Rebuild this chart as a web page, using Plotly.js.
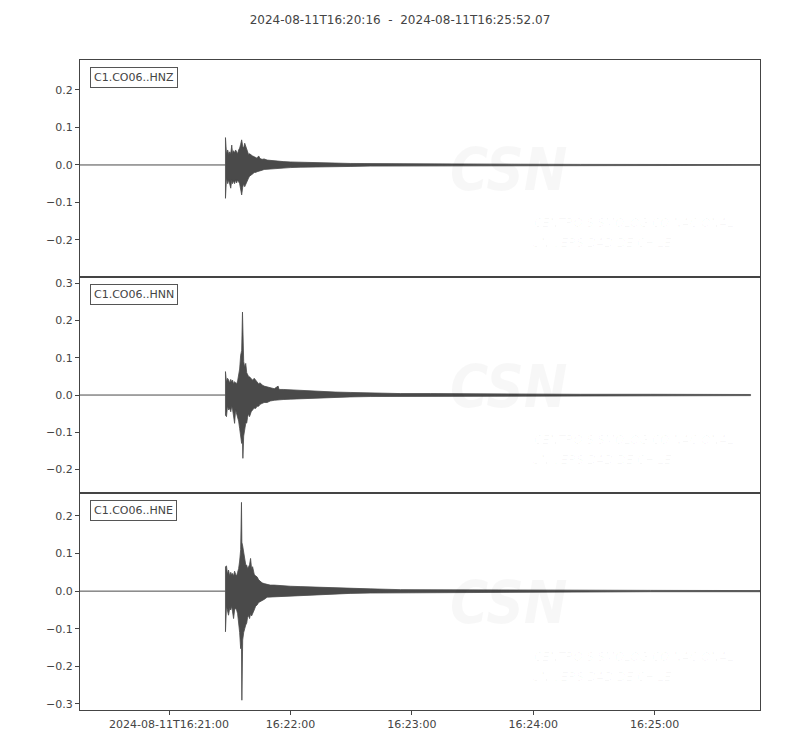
<!DOCTYPE html>
<html>
<head>
<meta charset="utf-8">
<script src="https://cdn.plot.ly/plotly-3.0.1.min.js"></script>
<style>html,body{margin:0;padding:0;background:#fff;}#chart{width:800px;height:750px;}</style>
</head>
<body>
<div id="chart"></div>
<script>
// ---- data (seconds after 2024-08-11T16:20:16, amplitude envelopes) ----
const startTime = "2024-08-11 16:20:16";
const endTime = "2024-08-11 16:25:52.07";
const titleText = "2024-08-11T16:20:16  -  2024-08-11T16:25:52.07";
const channels = ["C1.CO06..HNZ", "C1.CO06..HNN", "C1.CO06..HNE"];

const tZ = [71.9,72.4,73.0,73.5,74.0,74.5,75.0,75.4,75.9,76.4,76.9,77.4,77.9,78.4,78.9,79.4,79.9,80.4,80.9,81.4,81.9,82.4,82.8,83.3,83.8,84.6,85.3,86.1,86.8,87.5,88.3,89.0,90.0,91.0,92.5,94.0,96.0,97.9,100.4,103.9,108.8,113.8,118.7,126.1,133.5,143.4,158.3,173.1,192.9,217.6,247.3,281.9,336.07];
const upZ = [0.073,0.03,0.04,0.028,0.035,0.03,0.053,0.03,0.038,0.032,0.04,0.035,0.03,0.04,0.045,0.055,0.067,0.05,0.045,0.058,0.05,0.04,0.032,0.028,0.03,0.026,0.024,0.022,0.02,0.018,0.024,0.017,0.015,0.016,0.013,0.012,0.011,0.01,0.009,0.008,0.007,0.006,0.005,0.005,0.004,0.004,0.003,0.003,0.002,0.002,0.0015,0.0015,0.001];
const loZ = [-0.089,-0.035,-0.05,-0.04,-0.045,-0.062,-0.04,-0.05,-0.042,-0.05,-0.04,-0.048,-0.04,-0.045,-0.05,-0.06,-0.08,-0.06,-0.05,-0.058,-0.052,-0.045,-0.04,-0.035,-0.03,-0.027,-0.024,-0.02,-0.02,-0.018,-0.016,-0.015,-0.014,-0.012,-0.011,-0.01,-0.009,-0.008,-0.008,-0.007,-0.006,-0.005,-0.004,-0.004,-0.004,-0.003,-0.003,-0.002,-0.002,-0.0015,-0.0015,-0.001,-0.001];

const tN = [71.9,72.4,72.9,73.5,74.0,74.5,75.0,75.4,75.9,76.4,76.9,77.4,77.9,78.4,78.9,79.4,79.9,80.3,80.5,80.9,81.4,81.9,82.4,82.8,83.3,83.8,84.6,85.3,86.1,86.8,87.5,88.3,89.0,90.0,91.0,92.5,94.0,96.0,97.9,98.4,100.4,103.9,108.8,113.8,118.7,126.1,133.5,143.4,158.3,173.1,192.9,217.6,247.3,281.9,331.4];
const upN = [0.063,0.035,0.045,0.04,0.032,0.042,0.035,0.04,0.03,0.036,0.033,0.03,0.038,0.05,0.07,0.107,0.12,0.223,0.12,0.09,0.075,0.085,0.06,0.055,0.05,0.049,0.045,0.04,0.045,0.04,0.035,0.03,0.033,0.027,0.024,0.022,0.02,0.017,0.024,0.015,0.015,0.014,0.012,0.01,0.009,0.008,0.007,0.005,0.004,0.004,0.003,0.003,0.002,0.002,0.0015];
const loN = [-0.054,-0.058,-0.03,-0.04,-0.035,-0.045,-0.03,-0.038,-0.05,-0.076,-0.04,-0.045,-0.06,-0.07,-0.09,-0.115,-0.13,-0.12,-0.17,-0.11,-0.09,-0.076,-0.075,-0.06,-0.05,-0.058,-0.045,-0.04,-0.035,-0.036,-0.03,-0.03,-0.025,-0.022,-0.02,-0.02,-0.016,-0.014,-0.013,-0.012,-0.012,-0.011,-0.01,-0.008,-0.007,-0.006,-0.005,-0.004,-0.004,-0.003,-0.003,-0.002,-0.002,-0.002,-0.0015];

const tE = [71.9,72.4,72.9,73.4,74.0,74.5,75.0,75.4,75.9,76.4,76.9,77.4,77.9,78.4,78.9,79.4,79.8,80.0,80.4,80.9,81.4,81.9,82.4,82.8,83.3,83.8,84.3,84.8,85.3,86.1,86.8,87.5,88.3,89.0,90.0,91.0,92.5,94.0,96.0,97.9,100.4,103.9,108.8,113.8,118.7,126.1,133.5,143.4,158.3,173.1,192.9,217.6,247.3,281.9,336.07];
const upE = [0.065,0.067,0.045,0.056,0.04,0.05,0.043,0.047,0.04,0.053,0.045,0.04,0.05,0.06,0.08,0.11,0.236,0.13,0.12,0.1,0.08,0.07,0.069,0.06,0.065,0.07,0.087,0.06,0.065,0.045,0.04,0.038,0.03,0.026,0.022,0.02,0.017,0.016,0.016,0.015,0.014,0.013,0.012,0.011,0.01,0.008,0.007,0.006,0.004,0.004,0.003,0.003,0.002,0.002,0.0015];
const loE = [-0.108,-0.04,-0.05,-0.064,-0.045,-0.05,-0.04,-0.055,-0.073,-0.05,-0.045,-0.05,-0.06,-0.08,-0.11,-0.153,-0.14,-0.29,-0.13,-0.11,-0.1,-0.09,-0.085,-0.07,-0.065,-0.073,-0.06,-0.066,-0.064,-0.05,-0.04,-0.037,-0.03,-0.028,-0.025,-0.022,-0.016,-0.015,-0.015,-0.014,-0.013,-0.012,-0.011,-0.01,-0.009,-0.008,-0.006,-0.005,-0.004,-0.003,-0.003,-0.002,-0.002,-0.0015,-0.0015];

const yRanges = [[-0.298, 0.28], [-0.264, 0.318], [-0.316, 0.26]];
const xTickVals = ["2024-08-11 16:21:00","2024-08-11 16:22:00","2024-08-11 16:23:00","2024-08-11 16:24:00","2024-08-11 16:25:00"];
const xTickText = ["2024-08-11T16:21:00","16:22:00","16:23:00","16:24:00","16:25:00"];
const yTickVals = [[-0.2,-0.1,0,0.1,0.2],[-0.2,-0.1,0,0.1,0.2,0.3],[-0.3,-0.2,-0.1,0,0.1,0.2]];
const watermarkLines = ["CENTRO SISMOLÓGICO NACIONAL", "UNIVERSIDAD DE CHILE"];

// ---- drawing ----
const base = Date.UTC(2024, 7, 11, 16, 20, 16);
const toDate = s => base + s * 1000;
const color = "#4a4a4a";
const sets = [[tZ, upZ, loZ], [tN, upN, loN], [tE, upE, loE]];
const traces = [];
sets.forEach((s, i) => {
  const [T, U, L] = s;
  const xa = i === 0 ? "x" : "x" + (i + 1);
  const ya = i === 0 ? "y" : "y" + (i + 1);
  traces.push({type: "scatter", mode: "lines", x: [toDate(0), toDate(T[0])], y: [0, 0],
    line: {color: color, width: 1}, xaxis: xa, yaxis: ya, hoverinfo: "skip", showlegend: false});
  const xs = T.map(toDate).concat(T.slice().reverse().map(toDate));
  const ys = U.concat(L.slice().reverse());
  xs.push(xs[0]); ys.push(ys[0]);
  traces.push({type: "scatter", mode: "lines", x: xs, y: ys, fill: "toself",
    fillcolor: color, line: {color: color, width: 0.8}, xaxis: xa, yaxis: ya,
    hoverinfo: "skip", showlegend: false});
});

const font = {family: "DejaVu Sans, sans-serif", size: 11, color: "#444"};
const layout = {
  width: 800, height: 750,
  margin: {l: 80, r: 40, t: 60, b: 40},
  paper_bgcolor: "#fff", plot_bgcolor: "#fff",
  font: font,
  showlegend: false,
  title: {text: titleText, x: 0.5, xanchor: "center", y: 0.973, yanchor: "middle", font: {family: "DejaVu Sans, sans-serif", size: 12, color: "#444"}},
  annotations: [],
  shapes: []
};
const domains = [[2/3, 1], [1/3, 2/3], [0, 1/3]];
const wm = "rgba(0,0,0,0.03)";
for (let i = 0; i < 3; i++) {
  const sx = i === 0 ? "xaxis" : "xaxis" + (i + 1);
  const sy = i === 0 ? "yaxis" : "yaxis" + (i + 1);
  const ya = i === 0 ? "y" : "y" + (i + 1);
  const xa = i === 0 ? "x" : "x" + (i + 1);
  layout[sx] = {
    type: "date", range: [startTime, endTime], anchor: ya,
    showgrid: false, zeroline: false, showline: true, mirror: true,
    linecolor: "#444", linewidth: 1,
    tickmode: "array", tickvals: xTickVals, ticktext: xTickText,
    showticklabels: i === 2, ticks: i === 2 ? "outside" : "", ticklen: 4, tickcolor: "#444",
    tickfont: font, fixedrange: true
  };
  layout[sy] = {
    domain: domains[i], range: yRanges[i], anchor: xa,
    showgrid: false, zeroline: false, showline: true, mirror: true,
    linecolor: "#444", linewidth: 1,
    tickmode: "array", tickvals: yTickVals[i], tickformat: ".1f",
    ticks: "outside", ticklen: 4, tickcolor: "#444", tickfont: font, fixedrange: true
  };
  layout.annotations.push({
    text: channels[i], xref: xa + " domain", yref: ya + " domain",
    x: 0.0147, y: 1 - 7 / 216.67, xanchor: "left", yanchor: "top", showarrow: false,
    font: {family: "DejaVu Sans, sans-serif", size: 11, color: "#444"},
    bordercolor: "#555", borderwidth: 1, borderpad: 3, bgcolor: "#fff"
  });
  // faint watermark
  layout.annotations.push({
    text: "<b><i>CSN</i></b>", xref: xa + " domain", yref: ya + " domain",
    x: (508 - 80) / 680, y: 1 - 146 / 216.67, xanchor: "center", yanchor: "bottom", showarrow: false,
    font: {family: "DejaVu Sans Condensed, Liberation Sans Narrow, sans-serif", size: 58, color: wm}
  });
  layout.annotations.push({
    text: "<i>" + watermarkLines[0] + "</i>", xref: xa + " domain", yref: ya + " domain",
    x: (532 - 80) / 680, y: 1 - 163 / 216.67, xanchor: "left", yanchor: "middle", showarrow: false,
    font: {family: "Liberation Sans Narrow, DejaVu Sans Condensed, sans-serif", size: 13, color: wm}
  });
  layout.annotations.push({
    text: "<i>" + watermarkLines[1] + "</i>", xref: xa + " domain", yref: ya + " domain",
    x: (530 - 80) / 680, y: 1 - 183 / 216.67, xanchor: "left", yanchor: "middle", showarrow: false,
    font: {family: "Liberation Sans Narrow, DejaVu Sans Condensed, sans-serif", size: 13, color: wm}
  });
}
Plotly.newPlot("chart", traces, layout, {displayModeBar: false, staticPlot: true});
</script>
</body>
</html>
